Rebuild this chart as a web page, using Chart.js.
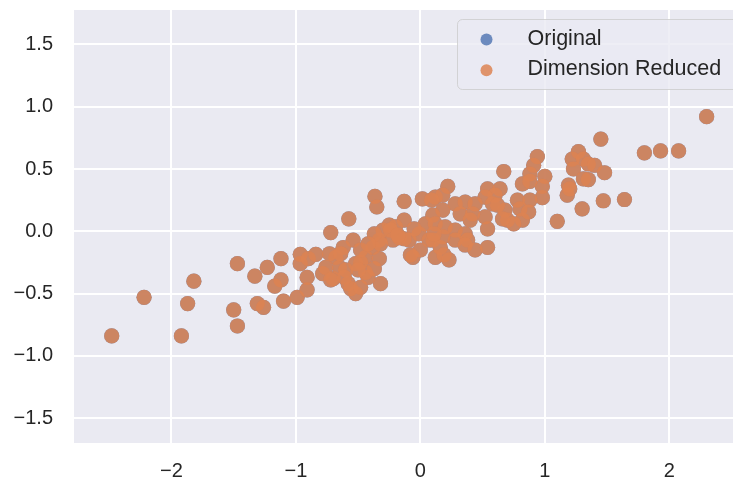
<!DOCTYPE html>
<html>
<head>
<meta charset="utf-8">
<script src="https://cdn.jsdelivr.net/npm/chart.js@4"></script>
<style>
  html, body { margin: 0; padding: 0; background: #ffffff; }
  canvas { display: block; }
</style>
</head>
<body>
<canvas id="c" width="733" height="483"></canvas>
<script>
// ---- data (original and reduced points coincide) ----
const seriesLabels = ['Original', 'Dimension Reduced'];
const pointX = [
  -2.48, -2.22, -1.82, -1.87, -1.92, -1.47, -1.50, -1.47, -1.33, -1.23,
  -1.12, -1.12, -1.17, -1.31, -1.26, -1.10, -0.99, -0.91, -0.91, -0.965,
  -0.965, -0.90, -0.84, -0.365, -0.35, -0.575, -0.13, 0.016, 0.12, -0.72,
  -0.54, -0.13, -0.25, -0.785, -0.70, -0.58, -0.52, -0.32, -0.42, -0.68,
  -0.65, -0.52, -0.44, -0.38, -0.33, -0.30, -0.33, -0.44, -0.62, -0.73,
  -0.17, -0.09, -0.06, -0.01, 0.04, 0.12, 0.10, -0.60, -0.76, -0.56,
  -0.48, 0.94, 0.91, 0.88, 0.67, 1.00, 0.82, 0.98, 0.22, 0.54,
  0.64, 0.60, 0.52, 0.18, 0.09, 0.28, 0.36, 0.44, 0.58, 0.78,
  0.80, 0.68, 0.82, 0.70, 0.75, 0.66, 0.52, 0.54, 0.32, 0.42,
  0.18, 0.10, -0.20, -0.05, 0.12, 0.20, 0.28, 0.36, 0.28, 0.38,
  0.18, 0.07, 0.00, 0.16, 0.19, 0.23, 0.36, 0.44, 0.54, -0.24,
  -0.22, -0.13, 2.30, 1.80, 1.93, 2.075, 1.45, 1.27, 1.22, 1.31,
  1.35, 1.40, 1.48, 1.23, 1.31, 1.35, 1.19, 1.18, 1.20, 1.47,
  1.64, 1.30, 1.10, 0.88, 0.98, 0.88, 0.87, -0.72, -0.37, -0.32,
  -0.37, -0.64, -0.48, -0.48, -0.42, -0.50, -0.61, 0.62, -0.18, -0.08,
  0.40, 0.11
];
const pointY = [
  -0.84, -0.53, -0.40, -0.58, -0.84, -0.26, -0.63, -0.76, -0.36, -0.29,
  -0.22, -0.39, -0.44, -0.58, -0.61, -0.56, -0.53, -0.47, -0.37, -0.26,
  -0.185, -0.22, -0.185, 0.28, 0.195, 0.10, 0.24, 0.26, 0.275, -0.01,
  -0.07, 0.09, 0.05, -0.34, -0.38, -0.42, -0.50, -0.42, -0.37, -0.21,
  -0.29, -0.26, -0.21, -0.13, -0.07, 0.01, -0.22, -0.33, -0.13, -0.18,
  -0.05, -0.07, -0.21, -0.02, 0.06, -0.21, -0.07, -0.31, -0.29, -0.46,
  -0.45, 0.60, 0.53, 0.46, 0.48, 0.44, 0.38, 0.36, 0.36, 0.34,
  0.34, 0.29, 0.275, 0.29, 0.25, 0.22, 0.235, 0.22, 0.22, 0.25,
  0.18, 0.17, 0.09, 0.09, 0.06, 0.10, 0.115, 0.02, 0.14, 0.14,
  0.17, 0.13, 0.035, 0.02, 0.06, 0.035, 0.01, -0.02, -0.07, -0.07,
  -0.045, -0.07, -0.15, -0.13, -0.19, -0.23, -0.11, -0.15, -0.13, 0.01,
  -0.07, -0.06, 0.92, 0.63, 0.645, 0.645, 0.74, 0.64, 0.58, 0.58,
  0.54, 0.53, 0.47, 0.50, 0.42, 0.415, 0.37, 0.29, 0.34, 0.245,
  0.255, 0.18, 0.08, 0.40, 0.27, 0.25, 0.155, -0.39, -0.30, -0.10,
  -0.02, -0.18, -0.25, -0.15, -0.10, -0.31, -0.37, 0.21, -0.03, -0.19,
  0.09, -0.02
];
const xTickValues = [-2, -1, 0, 1, 2];
const xTickLabels = ['\u22122', '\u22121', '0', '1', '2'];
const yTickValues = [-1.5, -1.0, -0.5, 0.0, 0.5, 1.0, 1.5];
const yTickLabels = ['\u22121.5', '\u22121.0', '\u22120.5', '0.0', '0.5', '1.0', '1.5'];

const points = pointX.map((x, i) => ({ x: x, y: pointY[i] }));

const FONT = "'Liberation Sans', Arial, sans-serif";
const TEXT = '#262626';

function zeroPad(s) {
  s.paddingLeft = 0; s.paddingRight = 0; s.paddingTop = 0; s.paddingBottom = 0;
}

const bgPlugin = {
  id: 'plotBg',
  beforeDraw(chart) {
    const { ctx, chartArea: a } = chart;
    ctx.save();
    ctx.fillStyle = '#EAEAF2';
    ctx.fillRect(a.left, a.top, a.right - a.left, a.bottom - a.top);
    ctx.restore();
  }
};

const legendPlugin = {
  id: 'innerLegend',
  afterDraw(chart) {
    const { ctx, chartArea: a } = chart;
    const bx = a.left + 383, by = a.top + 9.5, bw = 320, bh = 70;
    ctx.save();
    ctx.beginPath();
    ctx.roundRect(bx + 0.5, by, bw, bh, 5);
    ctx.fillStyle = 'rgba(234,234,242,0.8)';
    ctx.fill();
    ctx.strokeStyle = 'rgba(204,204,204,0.8)';
    ctx.lineWidth = 1;
    ctx.stroke();
    ctx.font = '21.5px ' + FONT;
    ctx.textAlign = 'left';
    ctx.textBaseline = 'alphabetic';
    chart.data.datasets.forEach((ds, i) => {
      const cy = by + 20 + i * 30.7;
      ctx.beginPath();
      ctx.arc(bx + 29.5, cy, 6, 0, Math.PI * 2);
      ctx.fillStyle = ds.backgroundColor;
      ctx.fill();
      ctx.fillStyle = TEXT;
      ctx.fillText(ds.label, bx + 70.5, cy + 5.2);
    });
    ctx.restore();
  }
};

new Chart(document.getElementById('c'), {
  type: 'scatter',
  data: {
    datasets: [
      {
        label: seriesLabels[0],
        data: points,
        backgroundColor: 'rgba(76,114,176,0.8)',
        borderWidth: 0,
        pointRadius: 7.6,
        order: 2
      },
      {
        label: seriesLabels[1],
        data: points,
        backgroundColor: 'rgba(221,132,82,0.85)',
        borderWidth: 0,
        pointRadius: 7.6,
        order: 1
      }
    ]
  },
  options: {
    responsive: false,
    devicePixelRatio: 1,
    animation: false,
    events: [],
    layout: { autoPadding: false, padding: { left: 0, right: 0, top: 10, bottom: 0 } },
    plugins: {
      legend: { display: false },
      tooltip: { enabled: false }
    },
    scales: {
      x: {
        type: 'linear',
        min: -2.783,
        max: 2.512,
        afterBuildTicks(s) { s.ticks = xTickValues.map(v => ({ value: v })); },
        afterFit(s) { s.height = 40; zeroPad(s); },
        grid: { color: '#ffffff', lineWidth: 2, drawTicks: false },
        border: { display: false },
        ticks: {
          padding: 16,
          color: TEXT,
          font: { family: FONT, size: 20, lineHeight: 1.2 },
          maxRotation: 0,
          callback: (v, i) => xTickLabels[i]
        }
      },
      y: {
        type: 'linear',
        min: -1.699,
        max: 1.776,
        afterBuildTicks(s) { s.ticks = yTickValues.map(v => ({ value: v })); },
        afterFit(s) { s.width = 74; zeroPad(s); },
        grid: { color: '#ffffff', lineWidth: 2, drawTicks: false },
        border: { display: false },
        ticks: {
          padding: 21,
          color: TEXT,
          font: { family: FONT, size: 20 },
          callback: (v, i) => yTickLabels[i]
        }
      }
    }
  },
  plugins: [bgPlugin, legendPlugin]
});
</script>
</body>
</html>
